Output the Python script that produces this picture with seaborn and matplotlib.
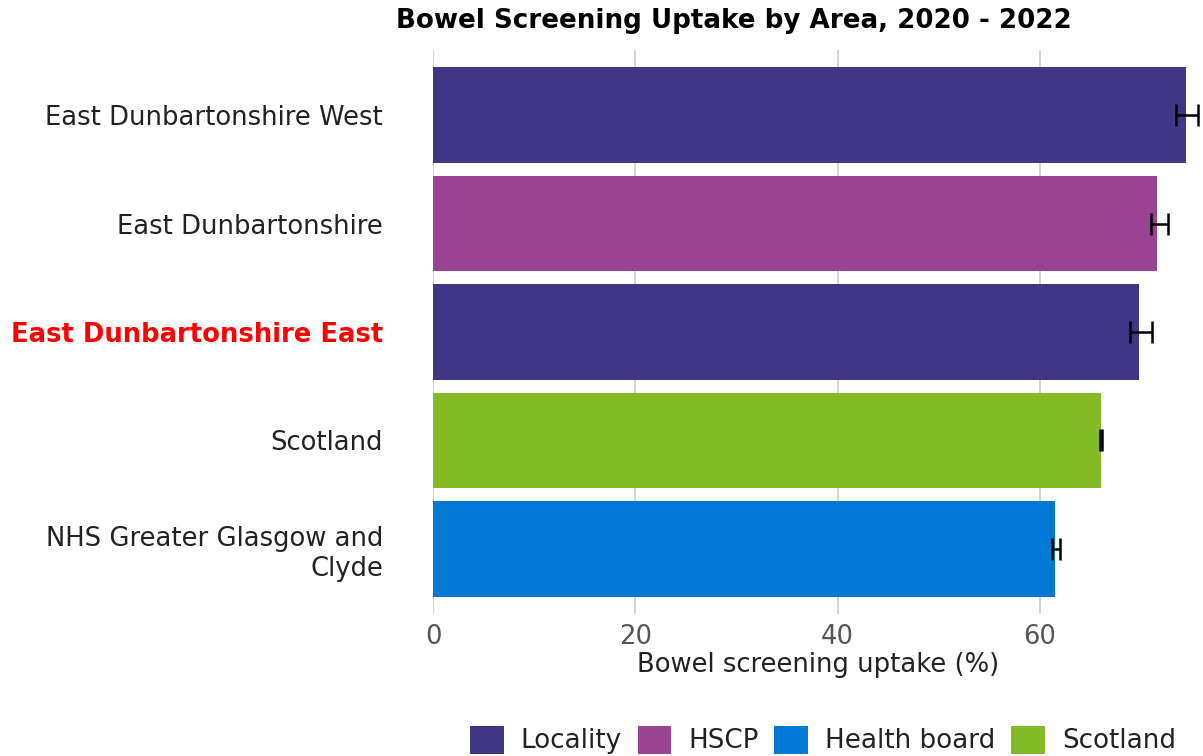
import pandas as pd
import matplotlib
matplotlib.use("Agg")
import matplotlib.pyplot as plt
import seaborn as sns
from matplotlib.patches import Patch

# data
areas = ["East Dunbartonshire West", "East Dunbartonshire", "East Dunbartonshire East",
         "Scotland", "NHS Greater Glasgow and\nClyde"]
area_type = ["Locality", "HSCP", "Locality", "Scotland", "Health board"]
uptake = [74.4, 71.6, 69.8, 66.0, 61.5]
ci_lower = [73.4, 71.0, 68.9, 65.9, 61.2]
ci_upper = [75.6, 72.6, 71.1, 66.1, 62.0]

legend_order = ["Locality", "HSCP", "Health board", "Scotland"]
palette = {"Locality": "#3F3685", "HSCP": "#9B4393",
           "Health board": "#0078D4", "Scotland": "#83BB26"}

df = pd.DataFrame({"area": areas, "type": area_type, "uptake": uptake,
                   "lo": ci_lower, "hi": ci_upper})

sns.set_style("white")
plt.rcParams["font.family"] = ["DejaVu Sans"]

fig = plt.figure(figsize=(12.03, 7.56), dpi=100)
ax = fig.add_axes([433 / 1203, 1 - 614 / 756, 1 - 433 / 1203, 564 / 756])

sns.barplot(data=df, y="area", x="uptake", hue="type", palette=palette,
            dodge=False, width=0.88, orient="h", legend=False, ax=ax,
            linewidth=0, saturation=1)

# confidence intervals
xerr = [df["uptake"] - df["lo"], df["hi"] - df["uptake"]]
ax.errorbar(df["uptake"], range(len(df)), xerr=xerr, fmt="none",
            ecolor="black", elinewidth=1.8, capsize=8, capthick=1.8, zorder=5)

ax.set_xlim(0, 76.1)
ax.set_ylim(4.6, -0.6)
ax.set_xticks([0, 20, 40, 60])
ax.grid(axis="x", color="#d4d4d4", linewidth=1.4)
ax.grid(axis="y", visible=False)
ax.set_axisbelow(True)
for s in ax.spines.values():
    s.set_visible(False)

ax.tick_params(axis="y", length=0, pad=36, labelsize=18.6, labelcolor="#222222")
ax.tick_params(axis="x", length=0, pad=7, labelsize=18.6, labelcolor="#555555")
ax.set_ylabel("")
ax.set_xlabel("Bowel screening uptake (%)", fontsize=18.6, color="#222222", labelpad=2)

for lab in ax.get_yticklabels():
    if lab.get_text() == "East Dunbartonshire East":
        lab.set_color("red")
        lab.set_fontweight("bold")

fig.text(734 / 1203, 1 - 21 / 756, "Bowel Screening Uptake by Area, 2020 - 2022",
         ha="center", va="center", fontsize=18.8, fontweight="bold", color="black")

handles = [Patch(facecolor=palette[k], edgecolor="none", label=k) for k in legend_order]
fig.legend(handles=handles, loc="center", bbox_to_anchor=(823 / 1203, 1 - 740 / 756),
           ncol=4, frameon=False, fontsize=18.8, handlelength=1.3, handleheight=1.3,
           handletextpad=0.65, columnspacing=0.6, labelcolor="#222222")

fig.savefig("out.png", dpi=100)
